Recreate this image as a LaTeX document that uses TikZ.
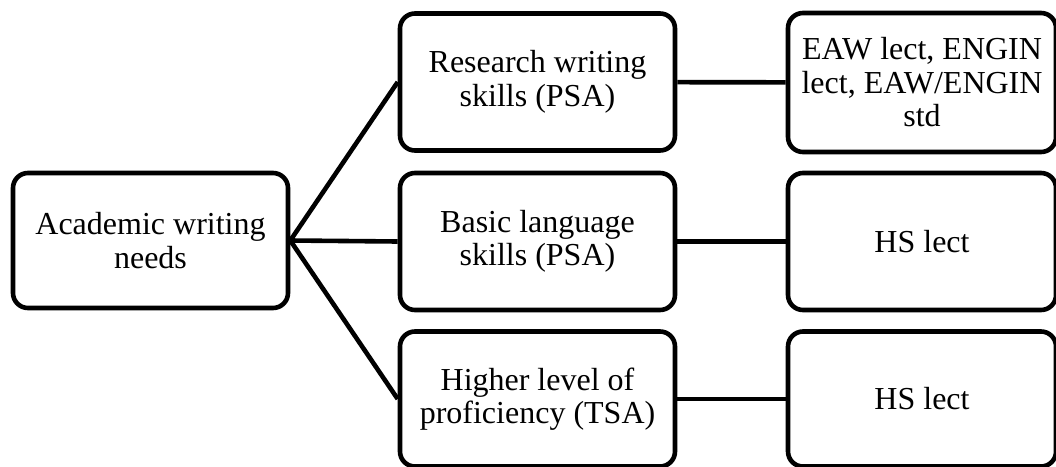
\documentclass[tikz,border=0pt]{standalone}
\usepackage{fontspec}
\setmainfont{Liberation Serif}
\usetikzlibrary{positioning}
\tikzset{
  needbox/.style={draw=black, line width=4.6pt, rounded corners=15pt, align=center,
    font=\fontsize{32}{33.5}\selectfont, inner sep=0pt,
    minimum width=275pt, minimum height=137pt},
  whobox/.style={needbox, minimum width=268pt},
  link/.style={draw=black, line width=4.6pt}
}

\begin{document}
\begin{tikzpicture}[x=1pt,y=-1pt]
  \useasboundingbox (0,0) rectangle (1056,466);
  \node[needbox, minimum height=135pt] (needs) at (150.5,240.5) {Academic writing\\needs};
  \node[needbox] (research) at (537.5,82) {Research writing\\skills (PSA)};
  \node[needbox] (basic) at (537.5,241.5) {Basic language\\skills (PSA)};
  \node[needbox, minimum height=135pt] (higher) at (537.5,399) {Higher level of\\proficiency (TSA)};
  \node[whobox, minimum height=139pt] (eaw) at (922,82.5) {EAW lect, ENGIN\\lect, EAW/ENGIN\\std};
  \node[whobox] (hsmid) at (922,241.5) {HS lect};
  \node[whobox, minimum height=135pt] (hslow) at (922,399) {HS lect};
  % fan out from the needs box
  \draw[link] (needs.east) -- (research.west);
  \draw[link] (needs.east) -- (basic.west);
  \draw[link] (needs.east) -- (higher.west);
  \draw[link] (research) -- (eaw);
  \draw[link] (basic) -- (hsmid);
  \draw[link] (higher) -- (hslow);
\end{tikzpicture}
\end{document}
